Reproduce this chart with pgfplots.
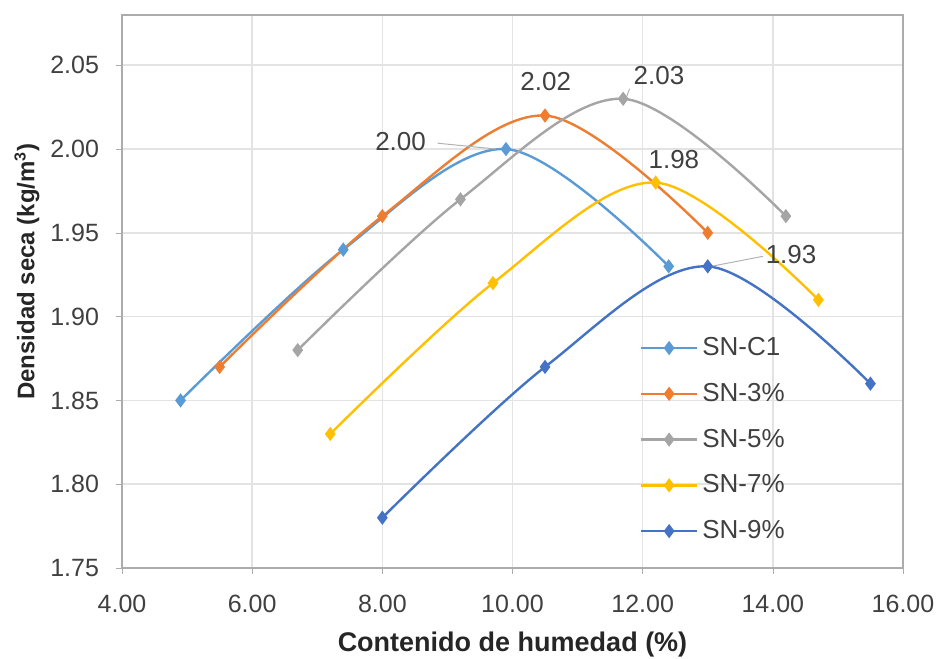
\documentclass[border=0pt]{standalone}
\usepackage{fontspec}
\setmainfont{Liberation Sans}
\usepackage{pgfplots}
\pgfplotsset{compat=1.18}
\definecolor{cA}{HTML}{5B9BD5}
\definecolor{cB}{HTML}{ED7D31}
\definecolor{cC}{HTML}{A5A5A5}
\definecolor{cD}{HTML}{FFC000}
\definecolor{cE}{HTML}{4472C4}
\definecolor{txt}{HTML}{404040}

\begin{document}
\begin{tikzpicture}
\begin{axis}[
    scale only axis,
    width=390.5pt, height=276.5pt,
    xmin=4, xmax=16, ymin=1.75, ymax=2.08,
    xtick={4,6,...,16},
    ytick={1.75,1.80,...,2.06},
    xtick pos=bottom, ytick pos=left,
    grid=major,
    major grid style={gray!22, line width=0.8pt},
    axis line style={gray!65, line width=1pt},
    tick align=outside, major tick length=3pt,
    tick style={gray!65},
    x tick label style={yshift=-7pt, /pgf/number format/.cd, fixed, fixed zerofill, precision=2},
    y tick label style={xshift=-5pt, /pgf/number format/.cd, fixed, fixed zerofill, precision=2},
    /pgf/number format/assume math mode=true,
    ticklabel style={font=\fontsize{12.5}{14}\selectfont, text=txt},
    xlabel={\textbf{Contenido de humedad (\%)}},
    ylabel={\textbf{Densidad seca (kg/m\textsuperscript{3})}},
    xlabel style={font=\fontsize{13.5}{15}\selectfont, text=black!85, yshift=-2.5pt},
    ylabel style={at={(ticklabel cs:0.536)}, font=\fontsize{12}{14}\selectfont, text=black!85, yshift=-1.5pt},
    legend style={at={(0.655,0.432)}, anchor=north west, draw=none, fill=none,
        font=\fontsize{13}{15}\selectfont, text=txt, row sep=8.3pt},
    legend cell align=left,
    legend image code/.code={\draw[mark repeat=2,mark phase=2] plot coordinates {(0pt,0pt)(14pt,0pt)(28pt,0pt)};},
    every axis plot/.append style={line width=1.2pt, smooth, tension=0.55, mark=diamond*, mark size=2.6pt, mark options={solid}},
]
\addplot[color=cA] coordinates {(4.9,1.85) (7.4,1.94) (9.9,2.00) (12.4,1.93)};
\addplot[color=cB] coordinates {(5.5,1.87) (8.0,1.96) (10.5,2.02) (13.0,1.95)};
\addplot[color=cC] coordinates {(6.7,1.88) (9.2,1.97) (11.7,2.03) (14.2,1.96)};
\addplot[color=cD] coordinates {(7.2,1.83) (9.7,1.92) (12.2,1.98) (14.7,1.91)};
\addplot[color=cE] coordinates {(8.0,1.78) (10.5,1.87) (13.0,1.93) (15.5,1.86)};
\legend{SN-C1,SN-3\%,SN-5\%,SN-7\%,SN-9\%}
\begin{scope}[every node/.style={font=\fontsize{13}{15}\selectfont, text=txt}]
\draw[gray!60, line width=0.5pt] (axis cs:8.85,2.0035) -- (axis cs:9.75,2.000);
\node at (axis cs:8.28,2.0045) {2.00};
\node at (axis cs:10.51,2.040) {2.02};
\draw[gray!60, line width=0.5pt] (axis cs:11.75,2.031) -- (axis cs:11.8,2.036);
\node at (axis cs:12.25,2.044) {2.03};
\node at (axis cs:12.48,1.994) {1.98};
\draw[gray!60, line width=0.5pt] (axis cs:13.05,1.930) -- (axis cs:13.85,1.936);
\node at (axis cs:14.28,1.937) {1.93};
\end{scope}
\end{axis}
\pgfresetboundingbox
\path[use as bounding box] (current axis.south west) ++(-61pt,-45.5pt) rectangle ++(469.5pt,329.5pt);
\end{tikzpicture}
\end{document}
